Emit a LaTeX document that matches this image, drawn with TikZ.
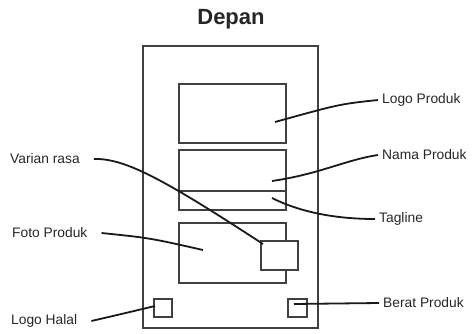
\documentclass[tikz,border=0pt]{standalone}
\usepackage{fontspec}
\setmainfont{Liberation Sans}
\begin{document}
\begin{tikzpicture}[x=1pt,y=-1pt,
    box/.style={draw=black!75,line width=1.8pt,inner sep=0pt,fill=white},
    lbl/.style={font=\fontsize{13.8}{15}\selectfont,text=black!85,inner sep=2pt},
    lead/.style={line width=1.8pt,black!90}]
    \useasboundingbox (0,0) rectangle (472,333);
    %title
    \node[font=\bfseries\fontsize{22}{25}\selectfont,text=black!85] (title) at (231,19) {Depan};
    %front of the pack
    \node[box,minimum width=175.3pt,minimum height=282.3pt] (front) at (230.35,186.85) {};
    \node[box,minimum width=106.7pt,minimum height=59pt] (logo) at (232.35,113.8) {};
    \node[box,minimum width=106.7pt,minimum height=40.7pt] (nama) at (232.35,170.35) {};
    \node[box,minimum width=106.7pt,minimum height=19.3pt] (tagline) at (232.35,200.35) {};
    \node[box,minimum width=106.7pt,minimum height=59.4pt] (foto) at (232.35,253) {};
    \node[box,minimum width=36.7pt,minimum height=29pt] (varian) at (279.35,255.5) {};
    \node[box,minimum width=18pt,minimum height=17.4pt] (halal) at (163.3,308) {};
    \node[box,minimum width=18.4pt,minimum height=17.4pt] (berat) at (297.5,308) {};
    %labels
    \node[lbl,anchor=west] (logolbl) at (380,100) {Logo Produk};
    \node[lbl,anchor=west] (namalbl) at (380,155) {Nama Produk};
    \node[lbl,anchor=west] (taglbl) at (377,219) {Tagline};
    \node[lbl,anchor=west] (beratlbl) at (381,303) {Berat Produk};
    \node[lbl,anchor=west] (varianlbl) at (8,159) {Varian rasa};
    \node[lbl,anchor=west] (fotolbl) at (10,233) {Foto Produk};
    \node[lbl,anchor=west] (halallbl) at (9,321) {Logo Halal};
    %where the leads end
    \coordinate (logopt) at (275,122);
    \coordinate (namapt) at (272,181);
    \coordinate (tagpt) at (272,198);
    \coordinate (varianpt) at (263,244);
    \coordinate (fotopt) at (203,250);
    \coordinate (halalpt) at (155,306);
    \coordinate (beratpt) at (294,304);
    %leads
    \draw[lead] ([xshift=-2pt]logolbl.west) .. controls (340,104) .. (logopt);
    \draw[lead] ([xshift=-2pt]namalbl.west) .. controls (345,160) and (320,174) .. (namapt);
    \draw[lead] ([xshift=-2pt]taglbl.west) .. controls (335,219) and (300,212) .. (tagpt);
    \draw[lead] ([xshift=12pt]varianlbl.east) .. controls (125,158) and (165,180) .. (varianpt);
    \draw[lead] ([xshift=12pt]fotolbl.east) .. controls (150,238) .. (fotopt);
    \draw[lead] ([xshift=12pt]halallbl.east) .. controls (130,312) .. (halalpt);
    \draw[lead] ([xshift=-2pt]beratlbl.west) -- (beratpt);
\end{tikzpicture}
\end{document}
